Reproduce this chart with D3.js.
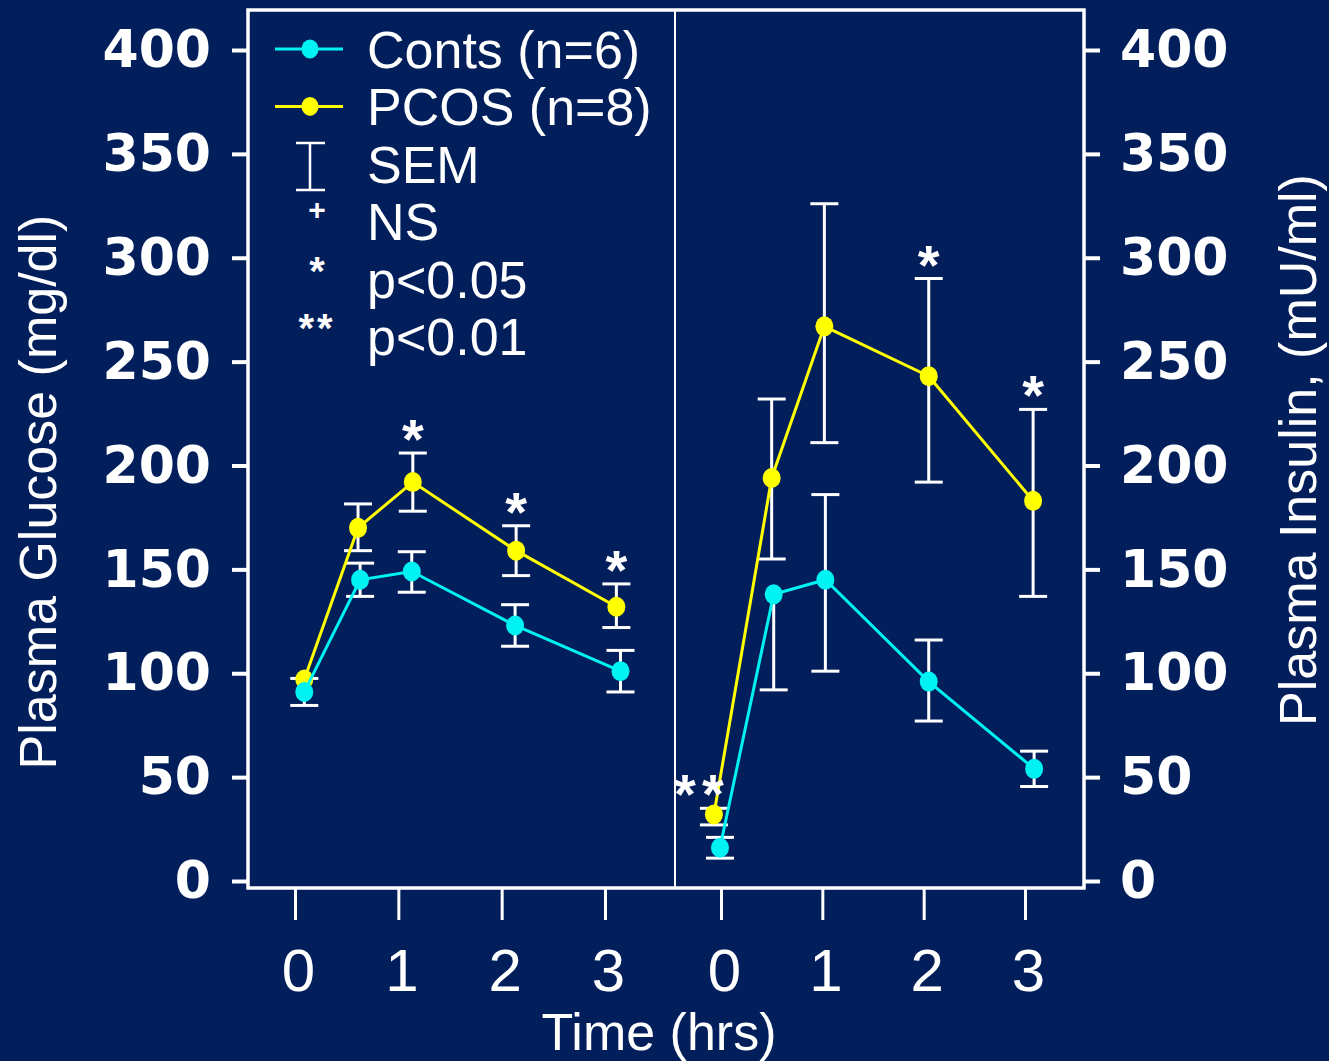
<!DOCTYPE html>
<html>
<head>
<meta charset="utf-8">
<script src="https://cdn.jsdelivr.net/npm/d3@7"></script>
<style>
  body { margin: 0; background: #021f5c; }
  svg { display: block; }
</style>
</head>
<body>
<div id="chart"></div>
<script>
// data
var timeTicks = [0, 1, 2, 3];
var yTicks = [0, 50, 100, 150, 200, 250, 300, 350, 400];

// glucose (left panel)
var gluTimeConts = [0.09, 0.63, 1.13, 2.13, 3.15];
var gluTimePcos = [0.09, 0.61, 1.14, 2.14, 3.11];
var gluConts = [91, 145, 149, 123, 101];
var gluContsSemUp = [6.5, 8, 9.5, 10, 10];
var gluContsSemDown = [6.5, 8, 10, 10, 10];
var gluPcos = [97, 170, 192, 159, 132];
var gluPcosSemUp = [0, 11.5, 14, 12, 11];
var gluPcosSemDown = [0, 11, 14, 12, 10];
var gluSig = ["", "", "*", "*", "*"];

// insulin (right panel)
var insTimeConts = [-0.01, 0.52, 1.03, 2.05, 3.09];
var insTimePcos = [-0.07, 0.5, 1.02, 2.05, 3.08];
var insConts = [16, 138, 145, 96, 54];
var insContsSemUp = [5, 0, 41, 20, 8.5];
var insContsSemDown = [5, 46, 44, 19, 8.5];
var insPcos = [32, 194, 267, 243, 183];
var insPcosSemUp = [3, 38, 59, 47, 44];
var insPcosSemDown = [5, 39, 56, 51, 46];
var insSig = ["**", "", "", "*", "*"];

var legendLabels = ["Conts (n=6)", "PCOS (n=8)", "SEM", "NS", "p<0.05", "p<0.01"];
var legendSymbols = ["conts", "pcos", "sem", "+", "*", "**"];

var bg = "#021f5c";
var contsColor = "#00f2f2";
var pcosColor = "#ffff00";

var svgWidth = 1329;
var svgHeight = 1061;

var box = { left: 248, right: 1084, top: 10, bottom: 888, split: 675 };

var svg = d3.select("#chart")
  .append("svg")
  .attr("width", svgWidth)
  .attr("height", svgHeight);

svg.append("rect")
  .attr("width", svgWidth)
  .attr("height", svgHeight)
  .attr("fill", bg);

var yScale = d3.scaleLinear().domain([0, 400]).range([881, 50]);
var xLeft = d3.scaleLinear().domain([0, 3]).range([295, 605]);
var xRight = d3.scaleLinear().domain([0, 3]).range([721, 1025]);

// frame
svg.append("rect")
  .attr("x", box.left)
  .attr("y", box.top)
  .attr("width", box.right - box.left)
  .attr("height", box.bottom - box.top)
  .attr("fill", "none")
  .attr("stroke", "white")
  .attr("stroke-width", 3.5);

svg.append("line")
  .attr("x1", box.split).attr("x2", box.split)
  .attr("y1", box.top).attr("y2", box.bottom)
  .attr("stroke", "white")
  .attr("stroke-width", 2);

// y axes
function styleAxis(g, fontSize, family, weight) {
  g.select(".domain").remove();
  g.selectAll(".tick line").attr("stroke", "white").attr("stroke-width", 4);
  g.selectAll(".tick text")
    .attr("fill", "white")
    .style("font-family", family)
    .style("font-weight", weight)
    .style("font-size", fontSize + "px");
}

var leftAxis = svg.append("g")
  .attr("transform", "translate(" + box.left + ",0)")
  .call(d3.axisLeft(yScale).tickValues(yTicks).tickSize(16).tickPadding(21));
styleAxis(leftAxis, 52, "'DejaVu Sans'", "bold");

var rightAxis = svg.append("g")
  .attr("transform", "translate(" + box.right + ",0)")
  .call(d3.axisRight(yScale).tickValues(yTicks).tickSize(16).tickPadding(20));
styleAxis(rightAxis, 52, "'DejaVu Sans'", "bold");

// x axes
[xLeft, xRight].forEach(function(sc) {
  var g = svg.append("g")
    .attr("transform", "translate(0," + box.bottom + ")")
    .call(d3.axisBottom(sc).tickValues(timeTicks).tickSize(32).tickPadding(28).tickFormat(d3.format("d")));
  styleAxis(g, 60, "'Liberation Sans', Arial, sans-serif", "normal");
  g.selectAll(".tick line").attr("stroke-width", 3);
  g.selectAll(".tick text").attr("dx", 3);
});

// axis titles
svg.append("text")
  .attr("transform", "translate(56,492) rotate(-90)")
  .attr("text-anchor", "middle")
  .attr("fill", "white")
  .style("font-family", "'Liberation Sans', Arial, sans-serif")
  .style("font-size", "52px")
  .text("Plasma Glucose (mg/dl)");

svg.append("text")
  .attr("transform", "translate(1316,450) rotate(-90)")
  .attr("text-anchor", "middle")
  .attr("fill", "white")
  .style("font-family", "'Liberation Sans', Arial, sans-serif")
  .style("font-size", "52px")
  .text("Plasma Insulin, (mU/ml)");

svg.append("text")
  .attr("x", 659)
  .attr("y", 1050)
  .attr("text-anchor", "middle")
  .attr("fill", "white")
  .style("font-family", "'Liberation Sans', Arial, sans-serif")
  .style("font-size", "52px")
  .text("Time (hrs)");

// series drawing
function makeRows(times, vals, up, down) {
  return times.map(function(t, i) {
    return { t: t, v: vals[i], up: up[i], down: down[i] };
  });
}

function drawErrorBars(rows, xs) {
  var g = svg.append("g").attr("stroke", "white").attr("stroke-width", 3);
  rows.forEach(function(d) {
    var x = xs(d.t);
    var yTop = yScale(d.v + d.up);
    var yBot = yScale(d.v - d.down);
    g.append("line").attr("x1", x).attr("x2", x)
      .attr("y1", yTop).attr("y2", yBot);
    if (d.up > 0) {
      g.append("line").attr("x1", x - 14).attr("x2", x + 14)
        .attr("y1", yTop).attr("y2", yTop);
    }
    if (d.down > 0) {
      g.append("line").attr("x1", x - 14).attr("x2", x + 14)
        .attr("y1", yBot).attr("y2", yBot);
    }
  });
}

function drawSeries(rows, xs, color) {
  var line = d3.line()
    .x(function(d) { return xs(d.t); })
    .y(function(d) { return yScale(d.v); });
  svg.append("path")
    .datum(rows)
    .attr("d", line)
    .attr("fill", "none")
    .attr("stroke", color)
    .attr("stroke-width", 3);
  svg.append("g").selectAll("ellipse")
    .data(rows)
    .enter()
    .append("ellipse")
    .attr("cx", function(d) { return xs(d.t); })
    .attr("cy", function(d) { return yScale(d.v); })
    .attr("rx", 9)
    .attr("ry", 10)
    .attr("fill", color);
}

function drawSig(rows, xs, sig) {
  rows.forEach(function(d, i) {
    if (!sig[i]) return;
    var yTop = yScale(d.v + d.up);
    var dx = sig[i] === "**" ? -12 : 0;
    svg.append("text")
      .attr("x", xs(d.t) + dx)
      .attr("y", yTop - 27 + 32)
      .attr("text-anchor", "middle")
      .attr("fill", "white")
      .style("font-family", "'Liberation Sans', Arial, sans-serif")
      .style("font-weight", "bold")
      .style("font-size", "56px")
      .style("letter-spacing", sig[i] === "**" ? "6px" : "0px")
      .text(sig[i]);
  });
}

var gluContsRows = makeRows(gluTimeConts, gluConts, gluContsSemUp, gluContsSemDown);
var gluPcosRows = makeRows(gluTimePcos, gluPcos, gluPcosSemUp, gluPcosSemDown);
var insContsRows = makeRows(insTimeConts, insConts, insContsSemUp, insContsSemDown);
var insPcosRows = makeRows(insTimePcos, insPcos, insPcosSemUp, insPcosSemDown);

drawErrorBars(gluPcosRows, xLeft);
drawErrorBars(gluContsRows, xLeft);
drawErrorBars(insPcosRows, xRight);
drawErrorBars(insContsRows, xRight);

drawSeries(gluPcosRows, xLeft, pcosColor);
drawSeries(gluContsRows, xLeft, contsColor);
drawSeries(insPcosRows, xRight, pcosColor);
drawSeries(insContsRows, xRight, contsColor);

drawSig(gluPcosRows, xLeft, gluSig);
drawSig(insPcosRows, xRight, insSig);

// legend
var legend = svg.append("g");
legendLabels.forEach(function(label, i) {
  var cy = 49 + i * 57.4;
  var sym = legendSymbols[i];
  legend.append("text")
    .attr("x", 367)
    .attr("y", cy + 19)
    .attr("fill", "white")
    .style("font-family", "'Liberation Sans', Arial, sans-serif")
    .style("font-size", "52px")
    .text(label);

  if (sym === "conts" || sym === "pcos") {
    var c = sym === "conts" ? contsColor : pcosColor;
    legend.append("line")
      .attr("x1", 275).attr("x2", 343)
      .attr("y1", cy).attr("y2", cy)
      .attr("stroke", c).attr("stroke-width", 3);
    legend.append("ellipse")
      .attr("cx", 310).attr("cy", cy)
      .attr("rx", 8.5).attr("ry", 9.5)
      .attr("fill", c);
  } else if (sym === "sem") {
    var sg = legend.append("g").attr("stroke", "white").attr("stroke-width", 2.5);
    sg.append("line").attr("x1", 310).attr("x2", 310).attr("y1", 143).attr("y2", 190);
    sg.append("line").attr("x1", 296).attr("x2", 325).attr("y1", 143).attr("y2", 143);
    sg.append("line").attr("x1", 296).attr("x2", 325).attr("y1", 190).attr("y2", 190);
  } else {
    var fs = sym === "+" ? 30 : 40;
    legend.append("text")
      .attr("x", 317)
      .attr("y", sym === "+" ? cy - 1 : cy + 6)
      .attr("text-anchor", "middle")
      .attr("fill", "white")
      .style("font-family", "'Liberation Sans', Arial, sans-serif")
      .style("font-weight", "bold")
      .style("font-size", fs + "px")
      .style("letter-spacing", sym === "**" ? "3px" : "0px")
      .text(sym);
  }
});
</script>
</body>
</html>
